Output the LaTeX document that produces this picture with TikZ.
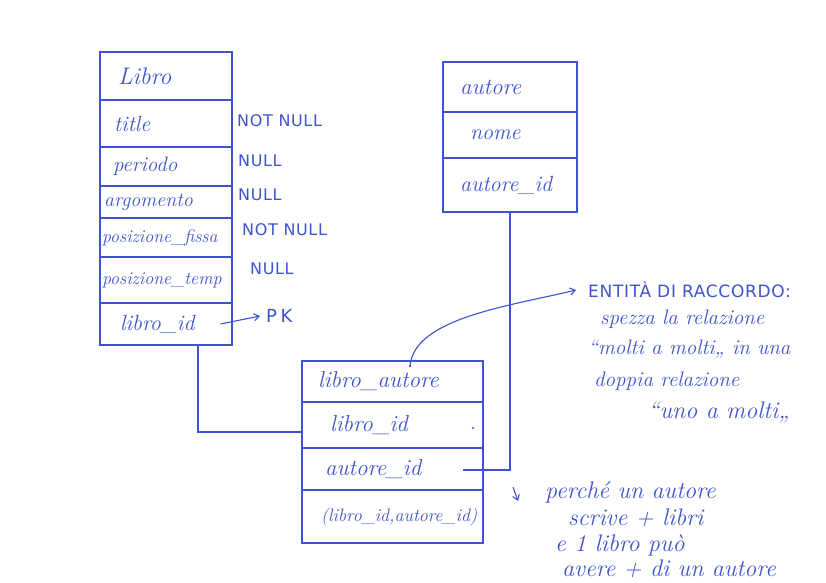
\documentclass[tikz,border=0pt]{standalone}
\usepackage{fontspec}
\newfontfamily\capsfont{DejaVu Sans}[LetterSpace=4]
\newfontfamily\pkfont{DejaVu Sans}[LetterSpace=20]
\usetikzlibrary{arrows.meta}
\definecolor{ink}{RGB}{62,84,206}
\newcommand{\fs}[1]{\fontsize{#1}{#1}\selectfont}
\begin{document}
\begin{tikzpicture}[x=1pt,y=-1pt,
  every node/.style={text=ink},
  row/.style={draw=ink, line width=1.1pt, inner xsep=2pt, inner ysep=0pt, font=\itshape, anchor=center, align=left},
  hw/.style={font=\fs{21}\itshape, anchor=west, inner sep=0pt},
  caps/.style={font=\fs{16}\capsfont, anchor=west, inner sep=0pt},
  wire/.style={draw=ink, line width=1.1pt},
  arr/.style={wire, -{Straight Barb[length=5pt,width=7pt]}}
]
\useasboundingbox (0,0) rectangle (826,582);
\fill[white] (0,0) rectangle (826,582);

% Libro table
\newcommand{\lrow}[6]{\node[row, minimum width=132pt, minimum height=#3pt, text width=128pt] (#1) at (166,#2) {\fs{#5}\hspace*{#4pt}\mbox{#6}};}
\lrow{libroH}{76}{48}{16}{24}{Libro}
\lrow{title}{123.5}{47}{12}{22}{title}
\lrow{periodo}{166.5}{39}{11}{21}{periodo}
\lrow{argomento}{202}{32}{2}{20}{argomento}
\lrow{posfissa}{237.5}{39}{0}{18}{posizione\_fissa}
\lrow{postemp}{280}{46}{0}{18}{posizione\_temp}
\lrow{libroid}{324}{42}{18}{22}{libro\_id}

% constraint labels
\node[caps] (nn1) at (237,121) {NOT NULL};
\node[caps] (n2) at (238,161) {NULL};
\node[caps] (n3) at (238,195) {NULL};
\node[caps] (nn4) at (242,230) {NOT NULL};
\node[caps] (n5) at (250,269) {NULL};
\node[caps, font=\fs{18}\pkfont] (pk) at (266,316) {PK};
\draw[arr] ([xshift=-12pt]libroid.east) -- ([xshift=-6pt]pk.west);

% autore table
\newcommand{\arow}[6]{\node[row, minimum width=134pt, minimum height=#3pt, text width=130pt] (#1) at (510,#2) {\fs{#5}\hspace*{#4pt}\mbox{#6}};}
\arow{autH}{87}{50}{15}{23}{autore}
\arow{nome}{135}{46}{25}{22}{nome}
\arow{aid}{185}{54}{15}{22}{autore\_id}

% libro_autore table
\newcommand{\brow}[6]{\node[row, minimum width=181pt, minimum height=#3pt, text width=177pt] (#1) at (392.5,#2) {\fs{#5}\hspace*{#4pt}\mbox{#6}};}
\brow{laH}{381.5}{41}{14}{23}{libro\_autore}
\brow{lalid}{425}{46}{26}{23}{libro\_id}
\brow{laaid}{469}{42}{21}{23}{autore\_id}
\brow{lapk}{516.5}{53}{17}{18}{(libro\_id,autore\_id)}

% connectors
\draw[wire] ([xshift=32pt]libroid.south) |- ([yshift=-7pt]lalid.west);
\coordinate (autend) at (463,470);
\draw[wire] (aid.south) |- (autend);

% notes
\node[caps, font=\fs{17}\capsfont] (ent) at (588,290) {ENTITÀ DI RACCORDO:};
\node[hw] (l2) at (600,319) {spezza la relazione};
\node[hw] (l3) at (588,349) {“molti a molti„ in una};
\node[hw] (l4) at (594,381) {doppia relazione};
\node[hw, font=\fs{24}\itshape] (l5) at (648,412) {“uno a molti„};

\coordinate (dot1) at (410,366);
\fill[ink] (dot1) circle (1.3pt);
\fill[ink] (473,428) circle (1.1pt);
\draw[arr] (dot1) .. controls (414,318) and (510,306) .. ([xshift=-12pt]ent.west);

\node[hw, font=\fs{24}\itshape] (p1) at (545,492) {perché un autore};
\node[hw, font=\fs{24}\itshape] (p2) at (568,518) {scrive + libri};
\node[hw, font=\fs{24}\itshape] (p3) at (555,545) {e 1 libro può};
\node[hw, font=\fs{24}\itshape] (p4) at (562,569) {avere + di un autore};
\coordinate (sa1) at (513,487);
\coordinate (sa2) at (518,501);
\draw[arr] (sa1) -- (sa2);
\end{tikzpicture}
\end{document}
